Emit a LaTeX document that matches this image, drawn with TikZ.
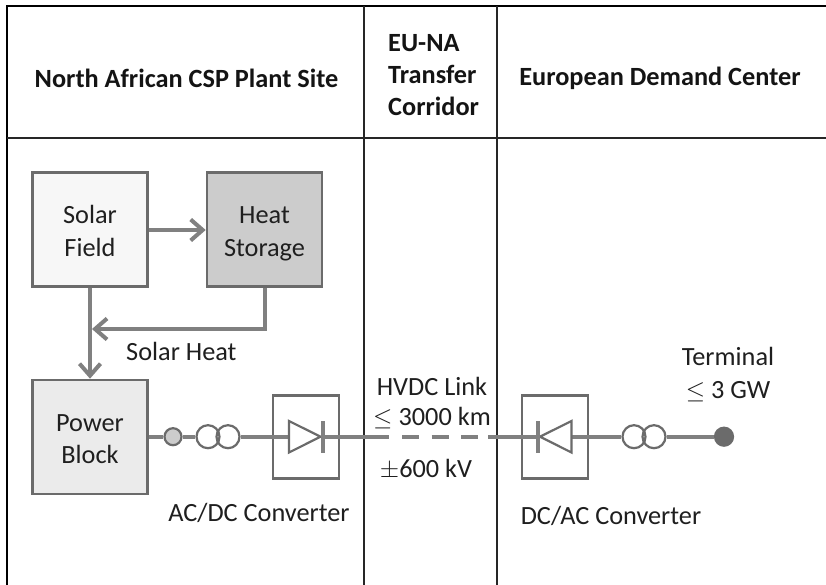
\documentclass[tikz,border=0pt]{standalone}
\usepackage{fontspec}
\usepackage{amssymb}
\setmainfont{Carlito}
\usetikzlibrary{arrows.meta}
\definecolor{ln}{gray}{0.42}
\definecolor{lnb}{gray}{0.5}
\newcommand{\firstline}{\rule{0pt}{30.5pt}}
\tikzset{
  x=1pt,y=-1pt,
  box/.style={draw=ln,line width=2.6pt,minimum width=115pt,minimum height=114pt,inner sep=0pt,align=center,font=\fontsize{26.3}{32.5}\selectfont,text=black!88},
  conv/.style={draw=ln,line width=2.2pt,minimum width=66.5pt,minimum height=83pt,inner sep=0pt},
  head/.style={font=\fontsize{26.3}{32}\selectfont\bfseries,align=center,text=black!92,inner sep=0pt},
  lbl/.style={font=\fontsize{26.3}{30}\selectfont,align=center,text=black!88,inner sep=0pt},
  wire/.style={draw=lnb,line width=3.8pt},
  flow/.style={draw=lnb,line width=4pt},
  arrow/.style={flow,-{Straight Barb[length=12pt,width=21pt,line width=4pt]}},
  coil/.style={circle,draw=ln,line width=2.2pt,minimum size=23pt,inner sep=0pt},
  term/.style={circle,draw=ln,line width=2.2pt,minimum size=17pt,inner sep=0pt}
}
\begin{document}
\begin{tikzpicture}
\useasboundingbox (0,0) rectangle (826,585);
\fill[white] (0,0) rectangle (826,585);
% table
\draw[black,line width=2pt] (7,585) -- (7,6) -- (826,6);
\draw[black!85,line width=1.3pt] (7,138) -- (826,138);
\draw[black!85,line width=1.3pt] (364,6) -- (364,585);
\draw[black!85,line width=1.3pt] (497,6) -- (497,585);
% headers
\node[head] (h1) at (186.5,78) {North African CSP Plant Site};
\node[head,align=left,anchor=west] (h2) at (388,75.5) {EU-NA\\Transfer\\Corridor};
\node[head] (h3) at (660,78) {European Demand Center};
% boxes
\node[box,fill=black!3] (sf) at (90,229.5) {\firstline Solar\\\strut Field};
\node[box,fill=black!20] (hs) at (264.5,229.5) {\firstline Heat\\\strut Storage};
\node[box,fill=black!8] (pb) at (90,437) {\firstline Power\\\strut Block};
\coordinate (j) at (92,329);
\coordinate (hsc) at (264.5,329);
\draw[arrow] (sf.east |- 0,230) -- (hs.west |- 0,230);
\draw[arrow] (sf.south) -- (pb.north);
\draw[arrow,line join=miter] (hs.south) -- (hsc) -- (j);
\node[lbl,anchor=west] (sh) at (126,351) {Solar Heat};
% converters
\node[conv] (c1) at (306,437) {};
\node[conv] (c2) at (555,437) {};
% electric nodes
\node[term,fill=black!20] (t1) at (173,436.7) {};
\node[coil] (a1) at (208,436.7) {};
\node[coil] (a2) at (228,436.7) {};
\node[coil] (b1) at (634,436.7) {};
\node[coil] (b2) at (654,436.7) {};
\node[term,fill=ln,minimum size=18pt] (t2) at (724,436.7) {};
\coordinate (pbe) at (pb.east |- t1);
\coordinate (d1l) at (290,436.7);
\coordinate (d1r) at (322,436.7);
\coordinate (d2r) at (572,436.7);
\coordinate (d2l) at (538,436.7);
\coordinate (dash1) at (389,436.7);
\coordinate (dash1b) at (402,436.7);
\coordinate (dash2b) at (478,436.7);
\coordinate (dash2) at (488,436.7);
\draw[wire] (pbe) -- (t1.west);
\draw[wire] (t1.east) -- (a1.west);
\draw[wire] (a2.east) -- (d1l);
\draw[wire] (d1r) -- (dash1);
\draw[wire,dash pattern=on 17pt off 12.5pt] (dash1b) -- (dash2b);
\draw[wire] (dash2) -- (d2l);
\draw[wire] (d2r) -- (b1.west);
\draw[wire] (b2.east) -- (t2.west);
% diodes
\draw[draw=ln,line width=2.2pt,line join=miter] (289,421) -- (320.5,436.7) -- (289,452.5) -- cycle;
\draw[draw=lnb,line width=3.8pt] (322.7,421) -- (322.7,453);
\draw[draw=ln,line width=2.2pt,line join=miter] (571.5,421) -- (540,436.7) -- (571.5,452.5) -- cycle;
\draw[draw=lnb,line width=3.8pt] (538,421) -- (538,453);
% labels
\node[lbl] (l1) at (259,513) {AC/DC Converter};
\node[lbl,align=center] (l2) at (432,403) {HVDC Link\\$\leq$ 3000 km};
\node[lbl] (l4) at (426,469) {$\pm$600 kV};
\node[lbl] (l5) at (611,516) {DC/AC Converter};
\node[lbl,font=\fontsize{26.3}{33}\selectfont] (l6) at (728,375) {Terminal\\$\leq$ 3 GW};
\end{tikzpicture}
\end{document}
